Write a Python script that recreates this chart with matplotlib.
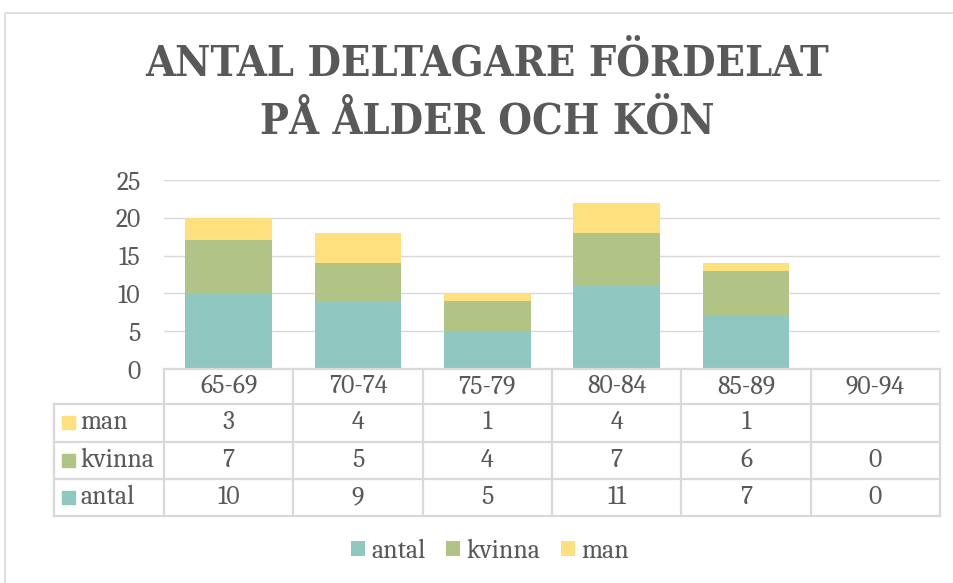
import matplotlib
matplotlib.use('Agg')
import matplotlib.pyplot as plt
from matplotlib.patches import Rectangle
from matplotlib.lines import Line2D

plt.rcParams['font.family'] = ['Caladea', 'Liberation Serif', 'DejaVu Serif']

# data
categories = ['65-69', '70-74', '75-79', '80-84', '85-89', '90-94']
antal = [10, 9, 5, 11, 7, 0]
kvinna = [7, 5, 4, 7, 6, 0]
man = [3, 4, 1, 4, 1, None]
series_names = ['antal', 'kvinna', 'man']
colors = ['#8FC7C1', '#B1C486', '#FFE07F']
title_lines = ['ANTAL DELTAGARE FÖRDELAT', 'PÅ ÅLDER OCH KÖN']

W, H = 954, 583
TXT = '#595959'
GRID = '#D9D9D9'

def fx(x):
    return x / W

def fy(y):
    return 1 - y / H

fig = plt.figure(figsize=(W / 100, H / 100), dpi=100, facecolor='w')

# outer chart border
fig.add_artist(Rectangle((fx(5), fy(600)), fx(1000), (600 - 13) / H,
                         transform=fig.transFigure, fill=False,
                         edgecolor=GRID, lw=1.2))

for i, line in enumerate(title_lines):
    fig.text(fx(487), fy(64 + 57 * i), line, ha='center', va='center',
             fontsize=31, fontweight='bold', color=TXT,
             family=['DejaVu Serif'], fontstretch='condensed')

# plot area
left, right, top, bottom = 164, 940, 180, 369
ax = fig.add_axes([fx(left), fy(bottom), (right - left) / W, (bottom - top) / H])
n = len(categories)
x = list(range(n))
man_vals = [v if v is not None else 0 for v in man]
bw = 0.668
ax.bar(x, antal, bw, color=colors[0], zorder=2, label=series_names[0])
ax.bar(x, kvinna, bw, bottom=antal, color=colors[1], zorder=2, label=series_names[1])
ax.bar(x, man_vals, bw, bottom=[a + k for a, k in zip(antal, kvinna)],
       color=colors[2], zorder=2, label=series_names[2])
ax.set_xlim(-0.5, n - 0.5)
ax.set_ylim(0, 25)
ax.set_yticks(range(0, 26, 5))
ax.set_xticks([])
ax.tick_params(axis='y', length=0, pad=17, labelsize=18.5, labelcolor=TXT)
ax.yaxis.grid(True, color=GRID, lw=1, zorder=0)
for s in ax.spines.values():
    s.set_visible(False)

# data table below the plot
cw = (right - left) / n
tleft = 54
rows_y = [369, 404, 441.7, 479, 516]
tax = fig.add_axes([fx(tleft), fy(rows_y[-1]), (right - tleft) / W,
                    (rows_y[-1] - rows_y[0]) / H])
x0 = -0.5 - (left - tleft) / cw
tax.set_xlim(x0, n - 0.5)
tax.set_ylim(rows_y[-1], rows_y[0])
tax.axis('off')

lk = dict(color=GRID, lw=1.6, solid_capstyle='projecting')
tax.add_line(Line2D([-0.5, n - 0.5], [rows_y[0], rows_y[0]], **lk))
for yy in rows_y[1:]:
    tax.add_line(Line2D([x0, n - 0.5], [yy, yy], **lk))
tax.add_line(Line2D([x0, x0], [rows_y[1], rows_y[-1]], **lk))
for k in range(n + 1):
    tax.add_line(Line2D([k - 0.5, k - 0.5], [rows_y[0], rows_y[-1]], **lk))
for line in tax.lines:
    line.set_clip_on(False)

fs = 18.5
for i, c in enumerate(categories):
    tax.text(i, (rows_y[0] + rows_y[1]) / 2, c, ha='center', va='center',
             fontsize=fs, color=TXT)

table_rows = [('man', man, colors[2]), ('kvinna', kvinna, colors[1]), ('antal', antal, colors[0])]
sq_x = -0.5 - (left - 62) / cw
sq_w = 13 / cw
txt_x = -0.5 - (left - 80) / cw
for r, (name, vals, col) in enumerate(table_rows):
    yc = (rows_y[r + 1] + rows_y[r + 2]) / 2
    tax.add_patch(Rectangle((sq_x, yc - 6.5), sq_w, 13, color=col, clip_on=False))
    tax.text(txt_x, yc, name, ha='left', va='center', fontsize=fs, color=TXT)
    for i, v in enumerate(vals):
        if v is not None:
            tax.text(i, yc, str(v), ha='center', va='center', fontsize=fs, color=TXT)

handles, labels = ax.get_legend_handles_labels()
fig.legend(handles, labels, loc='center', bbox_to_anchor=(fx(490), fy(551)),
           ncol=3, frameon=False, fontsize=fs, labelcolor=TXT,
           handlelength=0.55, handleheight=0.55, handletextpad=0.25,
           columnspacing=0.8)

fig.savefig('out.png', dpi=100)
